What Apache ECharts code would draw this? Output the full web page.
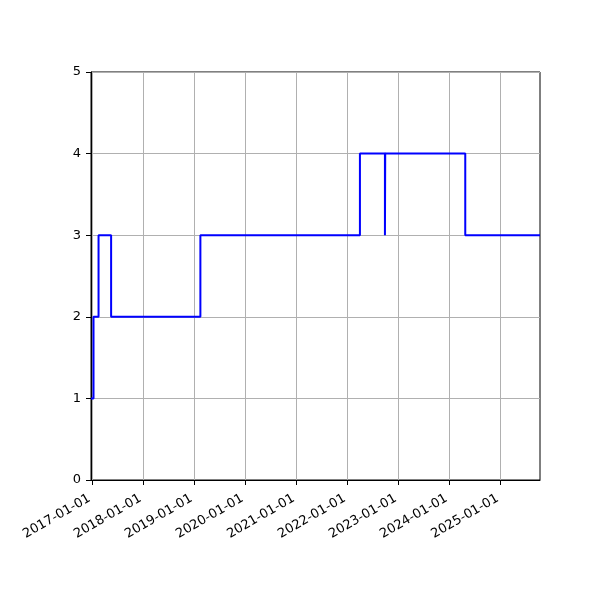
<!DOCTYPE html>
<html>
	<head>
		<meta charset="utf-8" />
		<title>step</title>
		<script src="https://cdn.jsdelivr.net/npm/echarts@6/dist/echarts.min.js"></script>
	</head>
	<body style="margin:0;">
		<div id="main" style="width:600px;height:600px;"></div>
		<script type="text/javascript">
			// change dates and the level held from each one (steps-post)
			var stepDates = ['2016-12-24', '2017-01-11', '2017-02-16', '2017-05-17', '2019-02-15',
				'2022-04-02', '2022-09-28', '2022-09-30', '2024-04-25', '2025-10-12'];
			var stepValues = [1, 2, 3, 2, 3, 4, 3, 4, 3, 3];
			var yearTicks = ['2017-01-01', '2018-01-01', '2019-01-01', '2020-01-01', '2021-01-01',
				'2022-01-01', '2023-01-01', '2024-01-01', '2025-01-01'];

			var ts = function (s) { return Date.UTC(+s.slice(0, 4), +s.slice(5, 7) - 1, +s.slice(8, 10)); };
			var points = [];
			for (var i = 0; i < stepDates.length; i++) {
				points.push([ts(stepDates[i]), stepValues[i]]);
			}
			var tickTs = yearTicks.map(ts);
			var tickName = {};
			for (var j = 0; j < tickTs.length; j++) tickName[tickTs[j]] = yearTicks[j];

			var myChart = echarts.init(document.getElementById('main'));
			var font = 'DejaVu Sans';
			var option = {
				animation: false,
				grid: {
					left: 91, right: 60, top: 72, bottom: 120,
					show: true, borderColor: '#000', borderWidth: 1
				},
				xAxis: {
					type: 'value',
					min: points[0][0],
					max: points[points.length - 1][0],
					axisLine: {show: true, lineStyle: {color: '#000', width: 1}},
					axisTick: {show: true, customValues: tickTs, length: 5, lineStyle: {color: '#000'}},
					axisLabel: {
						customValues: tickTs,
						rotate: 30,
						color: '#000',
						fontFamily: font,
						fontSize: 13,
						margin: 16,
						padding: [0, 3, 0, 0],
						formatter: function (v) { return tickName[v] || ''; }
					},
					splitLine: {show: false}
				},
				yAxis: {
					type: 'value',
					min: 0, max: 5, interval: 1,
					axisLine: {show: true, lineStyle: {color: '#000', width: 1}},
					axisTick: {show: true, length: 5, lineStyle: {color: '#000'}},
					axisLabel: {color: '#000', fontFamily: font, fontSize: 13, margin: 10},
					splitLine: {show: true, lineStyle: {color: '#b0b0b0', width: 1}}
				},
				series: [
					{
						type: 'line',
						step: 'end',
						data: points,
						showSymbol: false,
						lineStyle: {color: '#0000ff', width: 2},
						markLine: {
							silent: true,
							symbol: 'none',
							label: {show: false},
							lineStyle: {color: '#b0b0b0', width: 1, type: 'solid'},
							z: 1,
							data: tickTs.map(function (t) { return {xAxis: t}; })
						}
					}
				]
			};
			myChart.setOption(option);
		</script>
	</body>
</html>
